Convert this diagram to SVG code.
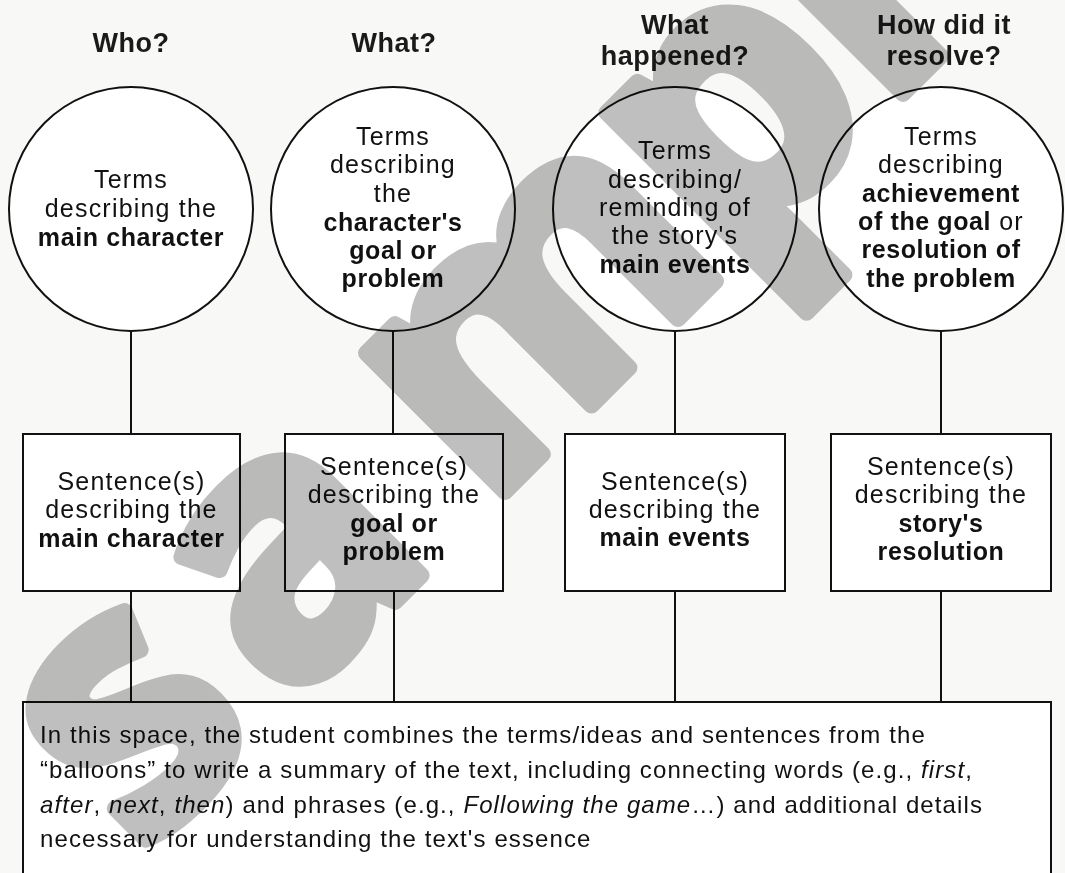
<svg xmlns="http://www.w3.org/2000/svg" width="1065" height="873" viewBox="0 0 1065 873">
<style>
.bg{fill:#f8f8f6}
.shape{fill:#fff;stroke:#111;stroke-width:2}
.conn{stroke:#111;stroke-width:2;fill:none}
.h{font-family:"Liberation Sans",Arial,sans-serif;font-weight:700;font-size:27px;fill:#1a1a1a;text-anchor:middle;letter-spacing:0.5px}
.t{font-family:"Liberation Sans",Arial,sans-serif;font-size:25px;fill:#111;text-anchor:middle;letter-spacing:1.2px}
.b{font-weight:700;letter-spacing:0.6px}
.p{font-family:"Liberation Sans",Arial,sans-serif;font-size:24px;fill:#111;letter-spacing:1.1px}
.i{font-style:italic}
.wm{font-family:"Open Sans","Liberation Sans",sans-serif;font-weight:700;font-size:360px;fill:#bfbfbf;stroke:#bfbfbf;stroke-width:16;stroke-linejoin:round;mix-blend-mode:multiply}
</style>
<rect class="bg" x="0" y="0" width="1065" height="873"/>

<g id="headings">
<text class="h" x="131" y="52">Who?</text>
<text class="h" x="394" y="52">What?</text>
<text class="h" x="675" y="34">What</text>
<text class="h" x="675" y="65">happened?</text>
<text class="h" x="944" y="34">How did it</text>
<text class="h" x="944" y="65">resolve?</text>
</g>

<g id="connectors">
<line class="conn" x1="131" y1="331" x2="131" y2="434"/>
<line class="conn" x1="393" y1="331" x2="393" y2="434"/>
<line class="conn" x1="675" y1="331" x2="675" y2="434"/>
<line class="conn" x1="941" y1="331" x2="941" y2="434"/>
<line class="conn" x1="131" y1="591" x2="131" y2="702"/>
<line class="conn" x1="394" y1="591" x2="394" y2="702"/>
<line class="conn" x1="675" y1="591" x2="675" y2="702"/>
<line class="conn" x1="941" y1="591" x2="941" y2="702"/>
</g>

<g id="circle-who">
<circle class="shape" cx="131" cy="209" r="122"/>
<text class="t" x="131" y="188">Terms</text>
<text class="t" x="131" y="217">describing the</text>
<text class="t" x="131" y="246"><tspan class="b">main character</tspan></text>
</g>

<g id="circle-what">
<circle class="shape" cx="393" cy="209" r="122"/>
<text class="t" x="393" y="145">Terms</text>
<text class="t" x="393" y="173">describing</text>
<text class="t" x="393" y="202">the</text>
<text class="t" x="393" y="231"><tspan class="b">character's</tspan></text>
<text class="t" x="393" y="259"><tspan class="b">goal or</tspan></text>
<text class="t" x="393" y="287"><tspan class="b">problem</tspan></text>
</g>

<g id="circle-happened">
<circle class="shape" cx="675" cy="209" r="122"/>
<text class="t" x="675" y="159">Terms</text>
<text class="t" x="675" y="188">describing/</text>
<text class="t" x="675" y="216">reminding of</text>
<text class="t" x="675" y="244">the story's</text>
<text class="t" x="675" y="273"><tspan class="b">main events</tspan></text>
</g>

<g id="circle-resolve">
<circle class="shape" cx="941" cy="209" r="122"/>
<text class="t" x="941" y="145">Terms</text>
<text class="t" x="941" y="173">describing</text>
<text class="t" x="941" y="202"><tspan class="b">achievement</tspan></text>
<text class="t" x="941" y="230"><tspan class="b">of the goal</tspan> or</text>
<text class="t" x="941" y="258"><tspan class="b">resolution of</tspan></text>
<text class="t" x="941" y="287"><tspan class="b">the problem</tspan></text>
</g>

<g id="box-who">
<rect class="shape" x="23" y="434" width="217" height="157"/>
<text class="t" x="131.5" y="490">Sentence(s)</text>
<text class="t" x="131.5" y="518">describing the</text>
<text class="t" x="131.5" y="547"><tspan class="b">main character</tspan></text>
</g>

<g id="box-what">
<rect class="shape" x="285" y="434" width="218" height="157"/>
<text class="t" x="394" y="475">Sentence(s)</text>
<text class="t" x="394" y="503">describing the</text>
<text class="t" x="394" y="532"><tspan class="b">goal or</tspan></text>
<text class="t" x="394" y="560"><tspan class="b">problem</tspan></text>
</g>

<g id="box-happened">
<rect class="shape" x="565" y="434" width="220" height="157"/>
<text class="t" x="675" y="490">Sentence(s)</text>
<text class="t" x="675" y="518">describing the</text>
<text class="t" x="675" y="546"><tspan class="b">main events</tspan></text>
</g>

<g id="box-resolve">
<rect class="shape" x="831" y="434" width="220" height="157"/>
<text class="t" x="941" y="475">Sentence(s)</text>
<text class="t" x="941" y="503">describing the</text>
<text class="t" x="941" y="532"><tspan class="b">story's</tspan></text>
<text class="t" x="941" y="560"><tspan class="b">resolution</tspan></text>
</g>

<g id="summary">
<rect class="shape" x="23" y="702" width="1028" height="200"/>
<text class="p" x="40" y="743">In this space, the student combines the terms/ideas and sentences from the</text>
<text class="p" x="40" y="778">“balloons” to write a summary of the text, including connecting words (e.g., <tspan class="i">first</tspan>,</text>
<text class="p" x="40" y="813"><tspan class="i">after</tspan>, <tspan class="i">next</tspan>, <tspan class="i">then</tspan>) and phrases (e.g., <tspan class="i">Following the game</tspan>…) and additional details</text>
<text class="p" x="40" y="847">necessary for understanding the text's essence</text>
</g>

<g id="watermark">
<text class="wm" transform="rotate(-45)" x="-507 -299 -19 321 544 660" y="705">sample</text>
</g>
</svg>
